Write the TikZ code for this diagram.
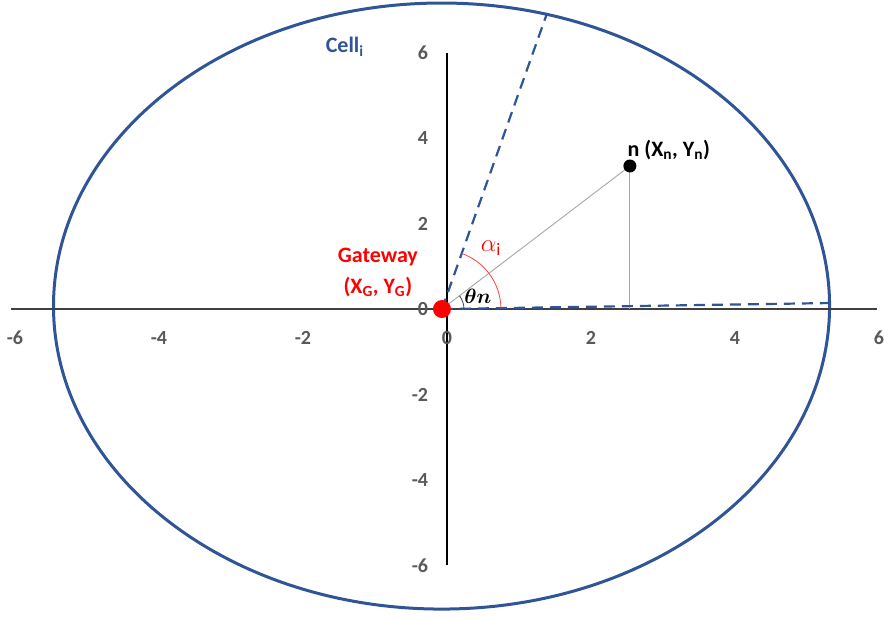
\documentclass[tikz,border=0pt]{standalone}
\usepackage{amsmath,amssymb,bm}
\usepackage{fontspec}
\setmainfont{Carlito}
\usetikzlibrary{calc}
\definecolor{cellblue}{HTML}{2F5597}
\definecolor{gwred}{HTML}{FF0000}
\definecolor{tickgray}{HTML}{595959}
\definecolor{axisgray}{HTML}{404040}
\definecolor{linegray}{HTML}{A6A6A6}
\tikzset{
  axisline/.style={draw=axisgray, line width=1.6pt},
  cellline/.style={draw=cellblue, line width=3pt},
  beam/.style={draw=cellblue, line width=2.2pt, dash pattern=on 11pt off 7pt},
  projline/.style={draw=linegray, line width=0.9pt},
  anglearc/.style={line width=0.8pt},
  ticklab/.style={font=\fontsize{20}{24}\selectfont\bfseries, text=tickgray, inner sep=0pt},
  lab/.style={font=\fontsize{22}{26}\selectfont\bfseries, align=center, inner sep=0pt},
  dot/.style={circle, inner sep=0pt},
}

\begin{document}
\begin{tikzpicture}[x=72pt, y=42.7pt]
  \useasboundingbox (-6.208,-7.237) rectangle (6.069,7.237);
  % cell border
  \draw[cellline] (-0.076,0.07) ellipse [x radius=388pt, y radius=303pt];
  % axes
  \coordinate (xl) at (-6.05,0); \coordinate (xr) at (5.97,0);
  \coordinate (yb) at (0,-6.0); \coordinate (yt) at (0,6.0);
  \draw[axisline] (xl) -- (xr);
  \draw[axisline, draw=black, line width=1.4pt] (yb) -- (yt);
  \foreach \v [count=\k] in {-6,-4,-2,0,2,4,6} {
    \node[ticklab] (xt\k) at (\v,-0.68) {\v};
    \node[ticklab, anchor=east] (yt\k) at (-0.26,\v) {\v};
  }
  % gateway and node
  \coordinate (G) at (-0.07,0);
  \coordinate (N) at (2.54,3.35);
  \coordinate (Nx) at (2.54,0);
  \coordinate (bu) at (1.39,6.93);
  \coordinate (bl) at (5.29,0.14);
  \draw[projline] (G) -- (N);
  \draw[projline] (N) -- (Nx);
  \draw[beam] (G) -- (bu);
  \draw[beam] (G) -- (bl);
  \draw[anglearc, draw=gwred!75] (G) ++(0.9:59pt) arc[start angle=0.9, end angle=70.5, radius=59pt];
  \draw[anglearc, draw=axisgray] (G) ++(0:22pt) arc[start angle=0, end angle=37.3, radius=22pt];
  \node[dot, fill=gwred, minimum size=18pt] (gw) at (G) {};
  \node[dot, fill=black, minimum size=13pt] (nd) at (N) {};
  % labels
  \node[lab, text=cellblue] (cell) at (-1.42,6.14) {Cell\textsubscript{i}};
  \node[lab, text=gwred] (gwname) at (-0.96,1.22) {Gateway};
  \node[lab, text=gwred] (gwpos) at (-0.96,0.52) {(X\textsubscript{G}, Y\textsubscript{G})};
  \node[lab] (ndpos) at (3.08,3.72) {n (X\textsubscript{n}, Y\textsubscript{n})};
  \node[font=\fontsize{25}{30}\selectfont, text=gwred, inner sep=0pt] (alpha) at (0.61,1.43) {$\alpha_{\mathrm{i}}$};
  \node[font=\fontsize{21}{25}\selectfont, inner sep=0pt] (theta) at (0.43,0.30) {$\bm{\theta n}$};
\end{tikzpicture}
\end{document}
